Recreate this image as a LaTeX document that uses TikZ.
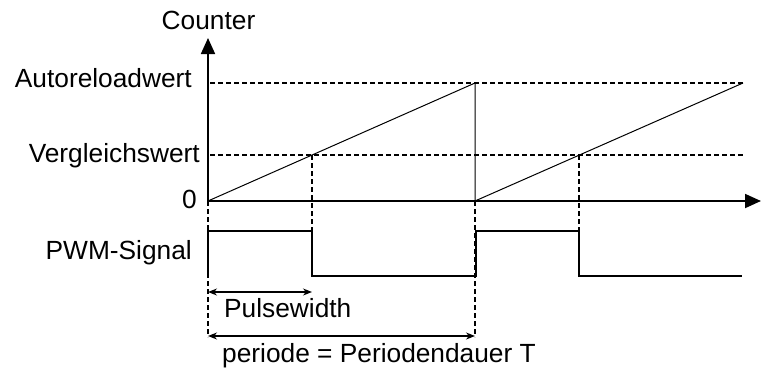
\documentclass[tikz,border=0pt]{standalone}
\usepackage{fontspec}
\setmainfont{Liberation Sans}
\usetikzlibrary{arrows.meta}
\begin{document}
\begin{tikzpicture}[x=1pt,y=-1pt,
  lbl/.style={inner sep=0pt,font=\fontsize{26.3}{26.3}\selectfont},
  axis/.style={line width=1.8pt},
  ramp/.style={line width=1pt},
  guide/.style={line width=1.3pt,dash pattern=on 5pt off 3pt},
  pwm/.style={line width=2.3pt},
  dim/.style={line width=1.3pt,{Stealth[length=9pt,width=7pt]}-{Stealth[length=9pt,width=7pt]}}]
\useasboundingbox (0,0) rectangle (763,367);
% coordinates
\coordinate (O) at (208,201);
\coordinate (Ytop) at (208,38);
\coordinate (Xend) at (761,201);
\coordinate (A1) at (475,83);
\coordinate (A0) at (475,201);
\coordinate (A2) at (743,83);
\coordinate (V1) at (312,155);
\coordinate (V2) at (579,155);
\coordinate (AL) at (210,83);
\coordinate (VL) at (210,155);
% guides
\draw[guide] (AL) -- (A2);
\draw[guide] (VL) -- (743,155);
\draw[guide] (V1) -- (312,231);
\draw[guide] (V2) -- (579,231);
\draw[guide] (O) -- (208,337);
\draw[guide] (A0) -- (475,337);
% ramps
\draw[ramp] (O) -- (A1) -- (A0) -- (A2);
% axes
\draw[axis,-{Triangle[length=16pt,width=14pt]}] (O) -- (Ytop);
\draw[axis,-{Triangle[length=16pt,width=14pt]}] (O) -- (Xend);
% PWM
\draw[pwm] (208,273) -- (208,231) -- (312,231) -- (312,276) -- (476,276) -- (476,231) -- (579,231) -- (579,276) -- (742,276);
% dimension arrows
\coordinate (PwL) at (208,292);
\coordinate (PwR) at (312,292);
\coordinate (PeL) at (208,336);
\coordinate (PeR) at (475,336);
\draw[dim] (PwL) -- (PwR);
\draw[dim] (PeL) -- (PeR);
% labels
\node[lbl,anchor=base] (counter) at (208.5,29) {Counter};
\node[lbl,anchor=base east] (auto) at (192,87) {Autoreloadwert};
\node[lbl,anchor=base east] (vgl) at (200,162) {Vergleichswert};
\node[lbl,anchor=base east] (zero) at (197,208) {0};
\node[lbl,anchor=base east] (pwmlbl) at (192,259) {PWM-Signal};
\node[lbl,anchor=base west] (pw) at (224,317) {Pulsewidth};
\node[lbl,anchor=base west] (per) at (222,362) {periode = Periodendauer T};
\end{tikzpicture}
\end{document}
